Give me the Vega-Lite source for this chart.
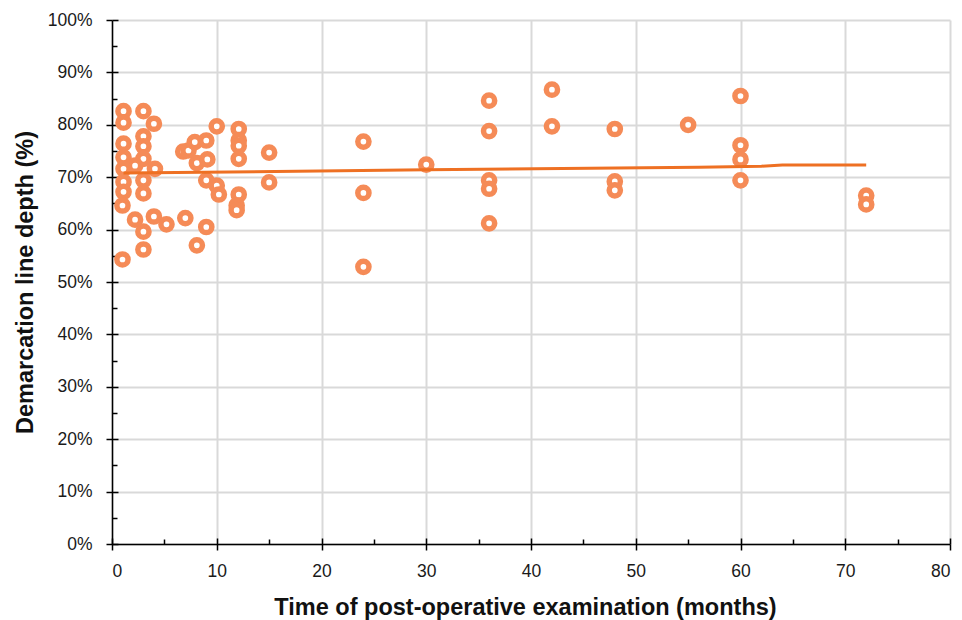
{
  "$schema": "https://vega.github.io/schema/vega-lite/v6.json",
  "autosize": {"type": "none"},
  "width": 838,
  "height": 524,
  "padding": {"left": 112, "top": 20, "right": 12, "bottom": 76},
  "background": "white",
  "config": {
    "view": {"stroke": null},
    "font": "Liberation Sans",
    "axis": {
      "labelFont": "Liberation Sans",
      "titleFont": "Liberation Sans",
      "labelFontSize": 17.5,
      "labelColor": "#1a1a1a",
      "titleFontSize": 23.5,
      "titleFontWeight": "bold",
      "titleColor": "#111111",
      "domainColor": "#000000",
      "domainWidth": 1.5,
      "tickColor": "#000000",
      "tickWidth": 1.5,
      "gridColor": "#D9D9D9",
      "gridWidth": 2
    }
  },
  "resolve": {"axis": {"x": "independent", "y": "independent"}},
  "datasets": {
    "pts": [
      {"t": 1.1, "d": 82.6}, {"t": 1.1, "d": 80.4}, {"t": 3.0, "d": 82.6}, {"t": 4.0, "d": 80.2},
      {"t": 3.0, "d": 77.8}, {"t": 1.1, "d": 76.4}, {"t": 3.0, "d": 75.9}, {"t": 1.1, "d": 73.8},
      {"t": 3.0, "d": 73.5}, {"t": 2.2, "d": 72.2}, {"t": 4.1, "d": 71.6}, {"t": 1.1, "d": 71.6},
      {"t": 1.1, "d": 69.1}, {"t": 3.0, "d": 69.4}, {"t": 1.1, "d": 67.2}, {"t": 3.0, "d": 66.9},
      {"t": 1.0, "d": 64.6}, {"t": 2.2, "d": 61.9}, {"t": 4.0, "d": 62.5}, {"t": 5.2, "d": 61.0},
      {"t": 3.0, "d": 59.6}, {"t": 3.0, "d": 56.2}, {"t": 1.0, "d": 54.3}, {"t": 7.0, "d": 62.2},
      {"t": 8.1, "d": 57.0}, {"t": 9.0, "d": 60.5}, {"t": 6.8, "d": 74.9}, {"t": 7.3, "d": 75.1},
      {"t": 7.9, "d": 76.7}, {"t": 9.0, "d": 77.0}, {"t": 10.0, "d": 79.7}, {"t": 8.1, "d": 72.7},
      {"t": 9.1, "d": 73.4}, {"t": 9.0, "d": 69.4}, {"t": 10.0, "d": 68.4}, {"t": 10.2, "d": 66.7},
      {"t": 12.1, "d": 79.2}, {"t": 12.1, "d": 77.0}, {"t": 12.1, "d": 76.0}, {"t": 12.1, "d": 73.5},
      {"t": 12.1, "d": 66.7}, {"t": 11.9, "d": 64.6}, {"t": 11.9, "d": 63.7}, {"t": 15.0, "d": 74.7},
      {"t": 15.0, "d": 69.0}, {"t": 24.0, "d": 76.8}, {"t": 24.0, "d": 67.0}, {"t": 24.0, "d": 52.9},
      {"t": 30.0, "d": 72.4}, {"t": 36.0, "d": 84.6}, {"t": 36.0, "d": 78.8}, {"t": 36.0, "d": 69.4},
      {"t": 36.0, "d": 67.8}, {"t": 36.0, "d": 61.2}, {"t": 42.0, "d": 86.7}, {"t": 42.0, "d": 79.7},
      {"t": 48.0, "d": 79.2}, {"t": 48.0, "d": 69.2}, {"t": 48.0, "d": 67.5}, {"t": 55.0, "d": 80.0},
      {"t": 60.0, "d": 85.5}, {"t": 60.0, "d": 76.1}, {"t": 60.0, "d": 73.4}, {"t": 60.0, "d": 69.4},
      {"t": 72.0, "d": 66.5}, {"t": 72.0, "d": 64.8}
    ],
    "trend": [
      {"t": 1.1, "d": 70.8}, {"t": 30.0, "d": 71.4}, {"t": 56.0, "d": 71.9},
      {"t": 62.0, "d": 72.1}, {"t": 64.0, "d": 72.35}, {"t": 72.0, "d": 72.35}
    ]
  },
  "layer": [
    {
      "data": {"name": "pts"},
      "mark": {"type": "point", "shape": "circle", "filled": false, "fill": "white", "fillOpacity": 1, "stroke": "#F58B57", "strokeWidth": 5.5, "size": 125, "opacity": 1},
      "encoding": {
        "x": {
          "field": "t", "type": "quantitative",
          "scale": {"domain": [0, 80], "nice": false, "zero": true},
          "axis": {
            "orient": "bottom",
            "title": "Time of post-operative examination (months)",
            "values": [0, 5, 10, 15, 20, 25, 30, 35, 40, 45, 50, 55, 60, 65, 70, 75, 80],
            "labelExpr": "datum.value % 10 === 0 ? datum.label : ''",
            "gridOpacity": {"condition": {"test": "datum.value % 10 === 0", "value": 1}, "value": 0},
            "tickSize": {"condition": {"test": "datum.value % 10 === 0", "value": 6}, "value": -5},
            "labelPadding": 12,
            "titleX": 413,
            "titleY": 70,
            "titleBaseline": "alphabetic"
          }
        },
        "y": {
          "field": "d", "type": "quantitative",
          "scale": {"domain": [0, 100], "nice": false},
          "axis": {
            "orient": "left",
            "title": "Demarcation line depth (%)",
            "values": [0, 5, 10, 15, 20, 25, 30, 35, 40, 45, 50, 55, 60, 65, 70, 75, 80, 85, 90, 95, 100],
            "labelExpr": "datum.value % 10 === 0 ? datum.value + '%' : ''",
            "gridOpacity": {"condition": {"test": "datum.value % 10 === 0", "value": 1}, "value": 0},
            "tickSize": {"condition": {"test": "datum.value % 10 === 0", "value": 6}, "value": -5},
            "labelPadding": 14,
            "titleX": -80,
            "titleY": 262,
            "titleBaseline": "alphabetic"
          }
        }
      }
    },
    {
      "data": {"name": "trend"},
      "mark": {"type": "line", "color": "#EE7023", "strokeWidth": 3},
      "encoding": {
        "x": {
          "field": "t", "type": "quantitative",
          "axis": {
            "orient": "bottom",
            "title": null,
            "values": [0, 10, 20, 30, 40, 50, 60, 70, 80],
            "labels": false,
            "grid": false,
            "domain": false,
            "tickSize": -6
          }
        },
        "y": {
          "field": "d", "type": "quantitative",
          "axis": {
            "orient": "left",
            "title": null,
            "values": [0, 10, 20, 30, 40, 50, 60, 70, 80, 90, 100],
            "labels": false,
            "grid": false,
            "domain": false,
            "tickSize": -6
          }
        }
      }
    }
  ]
}
